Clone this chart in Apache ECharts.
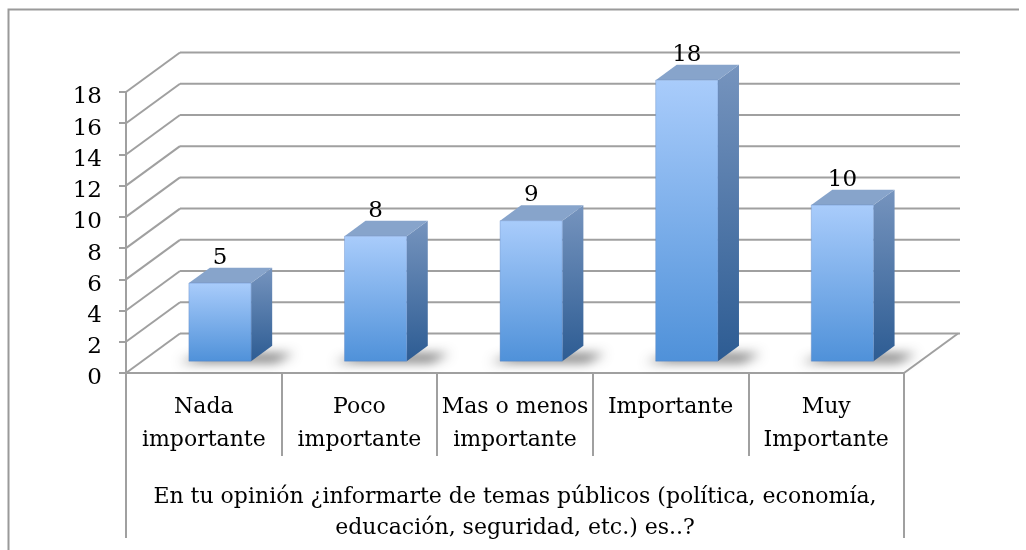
<!DOCTYPE html>
<html><head><meta charset="utf-8">
<script src="https://cdn.jsdelivr.net/npm/echarts@6/dist/echarts.min.js"></script>
<style>html,body{margin:0;padding:0;background:#fff}#c{width:1026px;height:550px}</style>
</head><body><div id="c"></div>
<script>
const categories = ['Nada\nimportante', 'Poco\nimportante', 'Mas o menos\nimportante', 'Importante', 'Muy\nImportante'];
const values = [5, 8, 9, 18, 10];
const yTicks = [0, 2, 4, 6, 8, 10, 12, 14, 16, 18];
const axisTitle = 'En tu opinión ¿informarte de temas públicos (política, economía,\neducación, seguridad, etc.) es..?';

const FONT = 'DejaVu Serif';
const GRID = '#a0a0a0';
const DX = 54, DY = -39.5;      // depth vector of the 3D box (px)
const F1 = 0.30, F2 = 0.69;     // bar depth position (fraction)
const BAR_W = 0.4;              // bar width fraction of band
const OFF = 3000;               // off-screen shift used to draw a pure blurred shadow

function wallItem(params, api) {
  const v = api.value(1);
  const band = api.size([1, 0])[0];
  const p0 = api.coord([0, v]);
  const pN = api.coord([categories.length - 1, v]);
  const xl = p0[0] - band / 2, xr = pN[0] + band / 2, y = p0[1];
  const st = { stroke: GRID, lineWidth: 2 };
  const children = [
    { type: 'line', shape: { x1: xl, y1: y, x2: xl + DX, y2: y + DY }, style: st },
    { type: 'line', shape: { x1: xl + DX, y1: y + DY, x2: xr + DX + 2, y2: y + DY }, style: st }
  ];
  if (v === 0) {
    children.push({ type: 'line', shape: { x1: xr, y1: y, x2: xr + DX, y2: y + DY }, style: st });
    children.push({ type: 'line', shape: { x1: xl, y1: y, x2: xl, y2: y + 165 }, style: st });
    children.push({ type: 'line', shape: { x1: xr, y1: y, x2: xr, y2: y + 165 }, style: st });
  }
  return { type: 'group', children };
}

function barItem(params, api) {
  const i = api.value(0), v = api.value(1);
  const band = api.size([1, 0])[0];
  const w = band * BAR_W;
  const base = api.coord([i, 0]);
  const top = api.coord([i, v]);
  const fx = DX * F1, fy = DY * F1;
  const dx = DX * (F2 - F1), dy = DY * (F2 - F1);
  const xl = base[0] - w / 2 + fx, xr = xl + w;
  const yb = base[1] + fy, yt = top[1] + fy;
  const LG = echarts.graphic.LinearGradient;
  const sh = [[xl - 10, yb + 1], [xr + 24, yb + 1], [xr + dx + 22, yb + dy + 8], [xl + dx - 4, yb + dy + 8]]
    .map(p => [p[0] - OFF, p[1]]);
  return {
    type: 'group',
    children: [
      { type: 'polygon', z2: 1,
        shape: { points: sh },
        style: { fill: '#000', shadowBlur: 11, shadowColor: 'rgba(55,55,55,0.72)', shadowOffsetX: OFF, shadowOffsetY: 0 } },
      { type: 'polygon', z2: 2,
        shape: { points: [[xr, yt], [xr + dx, yt + dy], [xr + dx, yb + dy], [xr, yb]] },
        style: { fill: new LG(0, 0, 0, 1, [{ offset: 0, color: '#7694be' }, { offset: 1, color: '#2d5c93' }]) } },
      { type: 'polygon', z2: 2,
        shape: { points: [[xl, yt], [xr, yt], [xr + dx, yt + dy], [xl + dx, yt + dy]] },
        style: { fill: '#87a4cb' } },
      { type: 'rect', z2: 3,
        shape: { x: xl, y: yt, width: w, height: yb - yt },
        style: { fill: new LG(0, 0, 0, 1, [{ offset: 0, color: '#a9ccfb' }, { offset: 1, color: '#4f91d9' }]),
                 stroke: 'rgba(90,130,190,0.6)', lineWidth: 0.6 } },
      { type: 'text', z2: 4,
        style: { text: String(v), x: xl + w / 2, y: yt - 25.5, align: 'center', verticalAlign: 'middle',
                 fontFamily: FONT, fontSize: 23, fill: '#000' } }
    ]
  };
}

const chart = echarts.init(document.getElementById('c'), null, { renderer: 'canvas' });
chart.setOption({
  animation: false,
  backgroundColor: '#fff',
  textStyle: { fontFamily: FONT },
  graphic: [{
    type: 'polyline', silent: true,
    shape: { points: [[1019, 9.5], [8.5, 9.5], [8.5, 560]] },
    style: { stroke: '#9a9a9a', lineWidth: 2, fill: null }
  }],
  grid: { left: 126, right: 122, top: 92, bottom: 177 },
  xAxis: {
    type: 'category',
    data: categories,
    axisLine: { lineStyle: { color: GRID, width: 2 } },
    axisTick: { show: true, interval: 0, length: 83, lineStyle: { color: GRID, width: 2 } },
    axisLabel: { interval: 0, margin: 18, fontFamily: FONT, fontSize: 22, lineHeight: 33, color: '#000' },
    name: axisTitle,
    nameLocation: 'middle',
    nameGap: 109,
    nameTextStyle: { fontFamily: FONT, fontSize: 22, lineHeight: 31, color: '#000' }
  },
  yAxis: {
    type: 'value', min: 0, max: 18, interval: 2,
    axisLine: { show: true, lineStyle: { color: GRID, width: 2 } },
    axisTick: { show: true, length: 7, lineStyle: { color: GRID, width: 2 } },
    axisLabel: {
      margin: 24, color: '#000',
      formatter: '{n|{value}}',
      rich: { n: { fontFamily: FONT, fontSize: 23, color: '#000', padding: [11, 0, 0, 0] } }
    },
    splitLine: { show: false }
  },
  series: [
    { type: 'custom', name: 'walls', silent: true, clip: false, z: 1,
      renderItem: wallItem, encode: { x: 0, y: 1 },
      data: yTicks.map(v => [0, v]) },
    { type: 'custom', name: 'bars', silent: true, clip: false, z: 3,
      renderItem: barItem, encode: { x: 0, y: 1 },
      data: values.map((v, i) => [i, v]) }
  ]
});
</script>
</body></html>
